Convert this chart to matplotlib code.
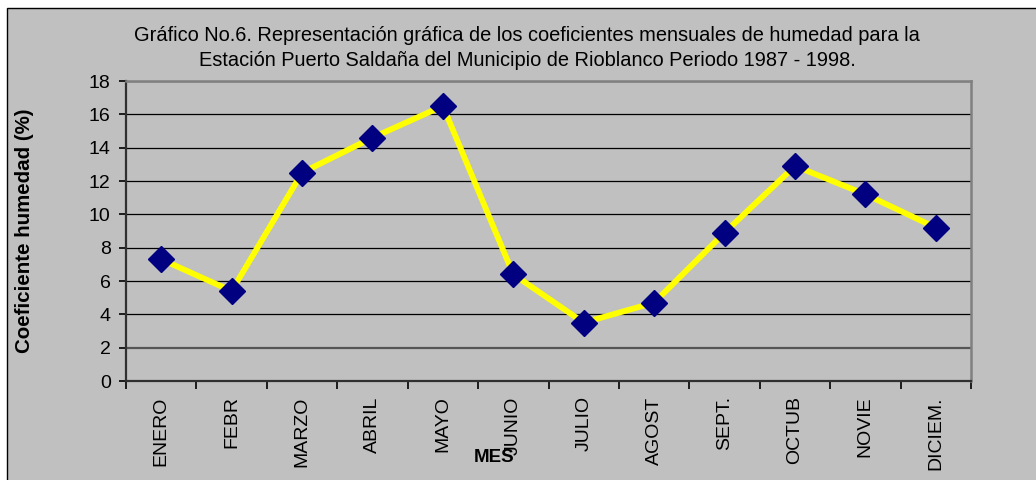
import matplotlib.pyplot as plt
from matplotlib.patches import Rectangle

plt.rcParams['font.family'] = ['Liberation Sans', 'DejaVu Sans']

meses = ['ENERO', 'FEBR', 'MARZO', 'ABRIL', 'MAYO', 'JUNIO', 'JULIO', 'AGOST',
         'SEPT.', 'OCTUB', 'NOVIE', 'DICIEM.']
coef = [7.3, 5.4, 12.5, 14.6, 16.5, 6.4, 3.5, 4.7, 8.9, 12.9, 11.2, 9.2]

W, H = 1036, 480
fig = plt.figure(figsize=(W / 100, H / 100), dpi=100, facecolor='white')
fig.patches.append(Rectangle((7 / W, -0.1), 1.2, 1 - 8 / H + 0.1, transform=fig.transFigure,
                             facecolor='#C0C0C0', edgecolor='black', linewidth=1, zorder=-1))

ax = fig.add_axes([126 / W, 1 - 381 / H, (971 - 126) / W, 300 / H])
ax.set_facecolor('#C0C0C0')
x = list(range(len(meses)))
ax.plot(x, coef, color='#FFFF00', linewidth=4.2, zorder=3,
        marker='D', markersize=13, markerfacecolor='#000080', markeredgecolor='#000080')

ax.set_xlim(-0.5, len(meses) - 0.5)
ax.set_ylim(0, 18)
ax.set_yticks(range(0, 19, 2))
ax.set_xticks(x)
ax.set_xticklabels(meses, rotation=90, fontsize=14)
ax.set_xticks([i - 0.5 for i in range(len(meses) + 1)], minor=True)
ax.tick_params(axis='x', which='major', length=0, pad=11)
ax.tick_params(axis='x', which='minor', length=6, width=1.2, color='black')
ax.tick_params(axis='y', length=5, width=1.2, labelsize=14, pad=6)

ax.yaxis.grid(True, color='black', linewidth=0.9)
ax.get_ygridlines()[1].set_color('#555555')
ax.get_ygridlines()[1].set_linewidth(1.6)
ax.set_axisbelow(True)
for s in ['top', 'right']:
    ax.spines[s].set_color('#808080')
    ax.spines[s].set_linewidth(1.8)
for s in ['left', 'bottom']:
    ax.spines[s].set_color('#303030')
    ax.spines[s].set_linewidth(1.6)

ax.set_ylabel('Coeficiente humedad (%)', fontsize=14.8, fontweight='bold')
ax.yaxis.set_label_coords(-92 / 845, 0.5)

fig.text(494 / W, 1 - 458 / H, 'MES', fontsize=13.5, fontweight='bold', ha='center', va='center')
fig.text(527 / W, 1 - 48 / H,
         'Gráfico No.6. Representación gráfica de los coeficientes mensuales de humedad para la\n'
         'Estación Puerto Saldaña del Municipio de Rioblanco Periodo 1987 - 1998.',
         fontsize=14.4, ha='center', va='center', linespacing=1.45)

fig.savefig('out.png', dpi=100, facecolor=fig.get_facecolor())
